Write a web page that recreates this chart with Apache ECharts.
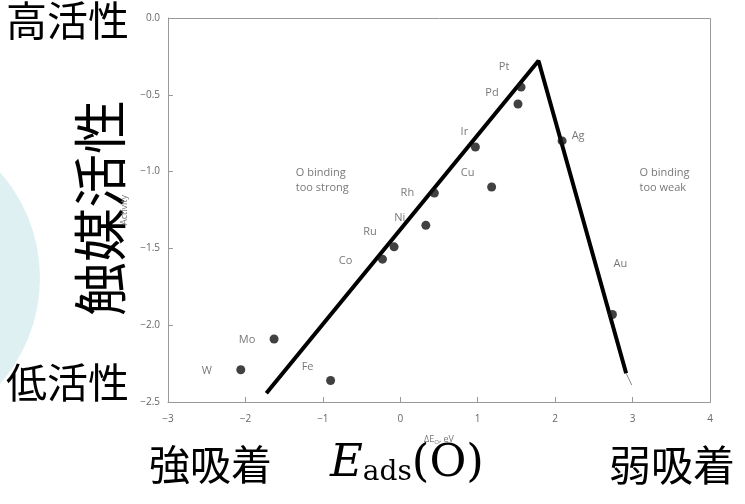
<!DOCTYPE html>
<html><head><meta charset="utf-8">
<script src="https://cdn.jsdelivr.net/npm/echarts@6/dist/echarts.min.js"></script>
<style>html,body{margin:0;padding:0;background:#fff}#c{width:745px;height:504px}</style>
</head><body><div id="c"></div>
<script>
// Data
const metals = ['W','Mo','Fe','Co','Ru','Ni','Rh','Ir','Cu','Pt','Pd','Ag','Au'];
const deltaEO = [-2.06,-1.63,-0.90,-0.23,-0.08,0.33,0.44,0.97,1.18,1.56,1.52,2.09,2.74];
const activity = [-2.29,-2.09,-2.36,-1.57,-1.49,-1.35,-1.14,-0.84,-1.10,-0.45,-0.56,-0.80,-1.93];
const volcanoX = [-1.73, 1.785, 2.917];
const volcanoY = [-2.443, -0.278, -2.313];
const tailX = [2.917, 2.99];
const tailY = [-2.313, -2.39];
const xTicks = ['\u22123','\u22122','\u22121','0','1','2','3','4'];
const yTicks = ['\u22122.5','\u22122.0','\u22121.5','\u22121.0','\u22120.5','0.0'];
const noteText = ['O binding\ntoo strong','O binding\ntoo weak'];
const noteX = [-1.35, 3.09];
const noteY = [-1.06, -1.06];

// label offsets (style)
const labelOffset = {W:[-34,1],Mo:[-27,1],Fe:[-23,-14],Co:[-37,2],Ru:[-24,-15],Ni:[-26,-8],Rh:[-27,0],Ir:[-11,-15],Cu:[-24,-14],Pt:[-17,-20],Pd:[-26,-11],Ag:[16,-5],Au:[8,-51]};

const chart = echarts.init(document.getElementById('c'), null, {renderer:'canvas'});
const tickFont = {color:'#666', fontSize:10, fontFamily:'Open Sans'};
const points = metals.map((m,i)=>({
  value:[deltaEO[i], activity[i]], name:m,
  label:{show:true, formatter:m, position:'inside', offset:labelOffset[m], color:'#555', fontSize:11, fontFamily:'Open Sans'}
}));
const cjk = 'Noto Sans CJK JP';
chart.setOption({
  animation:false,
  backgroundColor:'#fff',
  grid:{left:168, right:35, top:18, bottom:102},
  xAxis:{type:'value', min:-3, max:4, interval:1,
    name:'{a|\u0394E}{s|O}{a|, eV}', nameLocation:'middle', nameGap:31,
    nameTextStyle:{rich:{a:{color:'#777',fontSize:9,fontFamily:'Open Sans'}, s:{color:'#777',fontSize:6,fontFamily:'Open Sans',verticalAlign:'bottom',padding:[6,0,0,0]}}},
    axisLine:{show:true, onZero:false, lineStyle:{color:'#999', width:1}},
    axisTick:{show:true, inside:true, length:5, lineStyle:{color:'#999'}},
    axisLabel:{...tickFont, margin:12, formatter:(v)=>xTicks[Math.round(v+3)]},
    splitLine:{show:false}},
  yAxis:{type:'value', min:-2.5, max:0, interval:0.5,
    name:'Activity', nameLocation:'middle', nameGap:20, nameRotate:90,
    nameTextStyle:{color:'#777', fontSize:9, fontFamily:'Open Sans'},
    axisLine:{show:true, onZero:false, lineStyle:{color:'#999', width:1}},
    axisTick:{show:true, inside:true, length:5, lineStyle:{color:'#999'}},
    axisLabel:{...tickFont, margin:8, formatter:(v)=>yTicks[Math.round((v+2.5)/0.5)]},
    splitLine:{show:false}},
  graphic:[
    {type:'rect', shape:{x:168.5,y:18.5,width:542,height:384}, style:{fill:'none', stroke:'#999', lineWidth:1}, z:1},
    {type:'circle', shape:{cx:-120, cy:278, r:160}, style:{fill:'#dff0f3'}, z:-1},
    {type:'text', left:6, top:0, style:{text:'高活性', font:'41px "'+cjk+'"', fill:'#000'}},
    {type:'text', left:6, top:362, style:{text:'低活性', font:'41px "'+cjk+'"', fill:'#000'}},
    {type:'text', x:100, y:208, rotation:Math.PI/2, style:{text:'触媒活性', font:'54px "'+cjk+'"', fill:'#000', align:'center', verticalAlign:'middle'}},
    {type:'text', left:149, top:444, style:{text:'強吸着', font:'41px "'+cjk+'"', fill:'#000'}},
    {type:'text', left:609, top:444, style:{text:'弱吸着', font:'42px "'+cjk+'"', fill:'#000'}},
    {type:'text', left:330, top:442, style:{text:'{e|E}{s|ads}{p|(O)}', rich:{e:{font:'italic 45px "DejaVu Serif"', fill:'#000'}, s:{font:'28px "DejaVu Serif"', fill:'#000', verticalAlign:'bottom', padding:[14,0,0,0]}, p:{font:'45px "DejaVu Serif"', fill:'#000'}}}}
  ],
  series:[
    {type:'line', data:volcanoX.map((x,i)=>[x,volcanoY[i]]), symbol:'none', lineStyle:{color:'#000', width:4}, z:3},
    {type:'line', data:tailX.map((x,i)=>[x,tailY[i]]), symbol:'none', lineStyle:{color:'#888', width:1}, z:2},
    {type:'scatter', data:points, symbol:'circle', symbolSize:9, itemStyle:{color:'#111'}, z:4},
    {type:'scatter', data:noteText.map((t,i)=>({value:[noteX[i],noteY[i]], label:{show:true, formatter:t, position:'inside', color:'#555', fontSize:11, lineHeight:15, align:'left', fontFamily:'Open Sans'}})), symbolSize:0, z:4}
  ]
});
</script></body></html>
